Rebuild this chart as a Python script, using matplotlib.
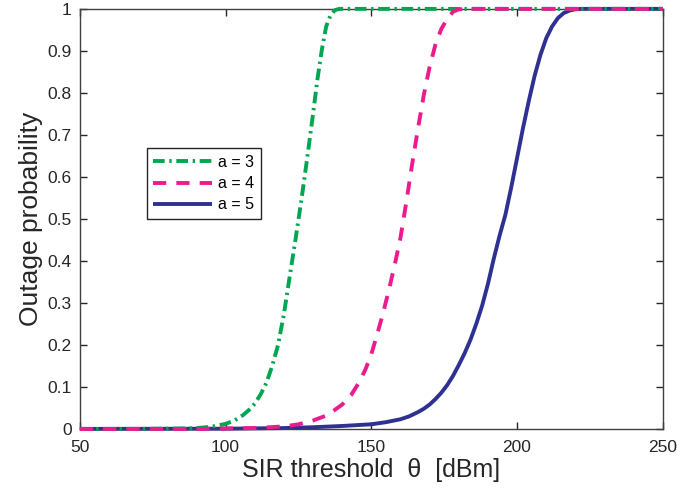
import matplotlib
matplotlib.use("Agg")
import matplotlib.pyplot as plt

# ---- data ----
green_x = [50, 70, 85, 90, 95, 100, 103, 106, 108, 110, 112, 114, 116, 118, 120, 122, 124, 126, 128,
           130, 131.5, 133, 134.5, 136, 137.5, 139, 141, 150, 200, 250]
green_y = [0, 0, 0.001, 0.002, 0.005, 0.012, 0.02, 0.033, 0.045, 0.06, 0.082, 0.11, 0.15, 0.2, 0.273,
           0.363, 0.452, 0.545, 0.645, 0.75, 0.832, 0.902, 0.958, 0.985, 0.997, 1.0, 1.0, 1, 1, 1]

pink_x = [50, 90, 110, 120, 125, 130, 135, 140, 143, 146, 148, 150, 152, 154, 156, 158, 160,
          162, 164, 166, 168, 170, 172, 174, 176, 178, 180, 183, 200, 250]
pink_y = [0, 0, 0.002, 0.006, 0.011, 0.02, 0.033, 0.058, 0.08, 0.113, 0.142, 0.178, 0.225,
          0.275, 0.33, 0.39, 0.455, 0.54, 0.63, 0.715, 0.795, 0.862, 0.915, 0.952, 0.976,
          0.993, 0.999, 1, 1, 1]

blue_x = [50, 100, 120, 130, 140, 150, 155, 160, 163, 166, 168, 170, 172, 174, 176, 178, 180,
          182, 184, 186, 188, 190, 192, 194, 196, 198, 200, 202, 204, 206, 208, 210, 212, 214,
          216, 218, 220, 222, 250]
blue_y = [0, 0.0005, 0.002, 0.004, 0.007, 0.011, 0.016, 0.023, 0.03, 0.04, 0.048, 0.058, 0.071,
          0.086, 0.104, 0.126, 0.152, 0.18, 0.212, 0.25, 0.293, 0.345, 0.405, 0.46, 0.51, 0.575,
          0.645, 0.715, 0.78, 0.84, 0.89, 0.93, 0.958, 0.978, 0.99, 0.996, 0.999, 1, 1]

labels = ["a = 3", "a = 4", "a = 5"]
x_ticks = [50, 100, 150, 200, 250]
y_ticks = [0, 0.1, 0.2, 0.3, 0.4, 0.5, 0.6, 0.7, 0.8, 0.9, 1]
y_tick_labels = ["0", "0.1", "0.2", "0.3", "0.4", "0.5", "0.6", "0.7", "0.8", "0.9", "1"]

plt.rcParams['font.family'] = ['Liberation Sans', 'DejaVu Sans']

fig = plt.figure(figsize=(6.77, 4.93), dpi=100)
ax = fig.add_axes([0.118, 0.130, 0.861, 0.852])

lw = 2.8
ax.plot(green_x, green_y, color='#00a650', lw=lw, dashes=(3.0, 1.2, 0.6, 1.2),
        label=labels[0], clip_on=False, zorder=3)
ax.plot(pink_x, pink_y, color='#ec1c8f', lw=lw, dashes=(3.4, 2.6),
        label=labels[1], clip_on=False, zorder=3)
ax.plot(blue_x, blue_y, color='#2e3192', lw=lw, solid_capstyle='butt',
        label=labels[2], clip_on=False, zorder=2)

ax.set_xlim(50, 250)
ax.set_ylim(0, 1)
ax.set_xticks(x_ticks)
ax.set_yticks(y_ticks)
ax.set_yticklabels(y_tick_labels)
ax.tick_params(direction='in', length=5, width=1, top=True, right=True,
               labelsize=12.5, colors='#262626')
ax.tick_params(axis='x', pad=8)
ax.tick_params(axis='y', pad=6)
for s in ax.spines.values():
    s.set_color('#404040')
    s.set_linewidth(1.0)

ax.set_xlabel("SIR threshold  θ  [dBm]", fontsize=18, color='#262626', labelpad=2)
ax.set_ylabel("Outage probability", fontsize=19, color='#262626', labelpad=3)

leg = ax.legend(loc='upper left', bbox_to_anchor=(0.115, 0.668), fontsize=11.5,
                handlelength=3.7, handletextpad=0.35, borderpad=0.4, labelspacing=0.4,
                fancybox=False, framealpha=1, edgecolor='#262626', borderaxespad=0)
leg.get_frame().set_linewidth(1.0)

fig.savefig("out.png", dpi=100)
